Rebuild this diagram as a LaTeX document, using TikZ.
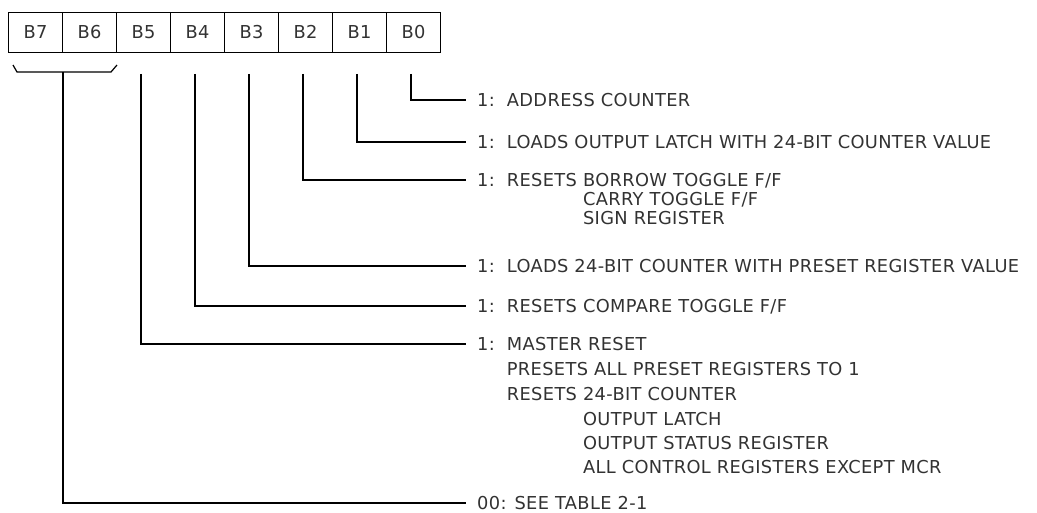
\documentclass[tikz,border=0pt]{standalone}
\usepackage{fontspec}
\setmainfont{DejaVu Sans}[LetterSpace=2]
\usetikzlibrary{positioning}
\definecolor{ink}{RGB}{50,50,50}
\tikzstyle{bitcell} = [draw, line width=1pt, minimum width=54pt, minimum height=40pt, inner sep=0pt, text=ink]
\tikzstyle{desc} = [anchor=west, inner sep=0pt, text=ink, text height=13pt, text depth=0pt]
\tikzstyle{lead} = [line width=1.2pt]
\newcommand{\tab}{\phantom{1:~~RESETS }}

\begin{document}
\begin{tikzpicture}[x=1pt,y=-1pt,font=\fontsize{17.8}{22}\selectfont]
\useasboundingbox (0,0) rectangle (1037,512);
% register bits
\foreach \b [count=\i from 0] in {7,...,0}
  \node[bitcell] (b\b) at (35.5+54*\i,32.3) {B\b};
% bit descriptions
\node[desc] (d0) at (477,100) {1:~~ADDRESS COUNTER};
\node[desc] (d1) at (477,142) {1:~~LOADS OUTPUT LATCH WITH 24-BIT COUNTER VALUE};
\node[desc] (d2) at (477,180) {1:~~RESETS BORROW TOGGLE F/F};
\node[desc] (d2b) at (477,199) {\tab CARRY TOGGLE F/F};
\node[desc] (d2c) at (477,218) {\tab SIGN REGISTER};
\node[desc] (d3) at (477,266) {1:~~LOADS 24-BIT COUNTER WITH PRESET REGISTER VALUE};
\node[desc] (d4) at (477,306) {1:~~RESETS COMPARE TOGGLE F/F};
\node[desc] (d5) at (477,344) {1:~~MASTER RESET};
\node[desc] (d5b) at (477,369) {\phantom{1:~~}PRESETS ALL PRESET REGISTERS TO 1};
\node[desc] (d5c) at (477,394) {\phantom{1:~~}RESETS 24-BIT COUNTER};
\node[desc] (d5d) at (477,419) {\tab OUTPUT LATCH};
\node[desc] (d5e) at (477,443) {\tab OUTPUT STATUS REGISTER};
\node[desc] (d5f) at (477,467) {\tab ALL CONTROL REGISTERS EXCEPT MCR};
\node[desc] (d76) at (477,503) {00: SEE TABLE 2-1};
% leads
\foreach \n in {0,...,5}
  \draw[lead] ([xshift=-2.5pt,yshift=-21pt]b\n.south) |- ([xshift=-11pt]d\n.west);
\draw[lead] (13,65) -- (17,72) -- (111,72) -- (117,65);
\coordinate (brk) at (63,72);
\draw[lead] (brk) |- ([xshift=-11pt]d76.west);
\end{tikzpicture}
\end{document}
